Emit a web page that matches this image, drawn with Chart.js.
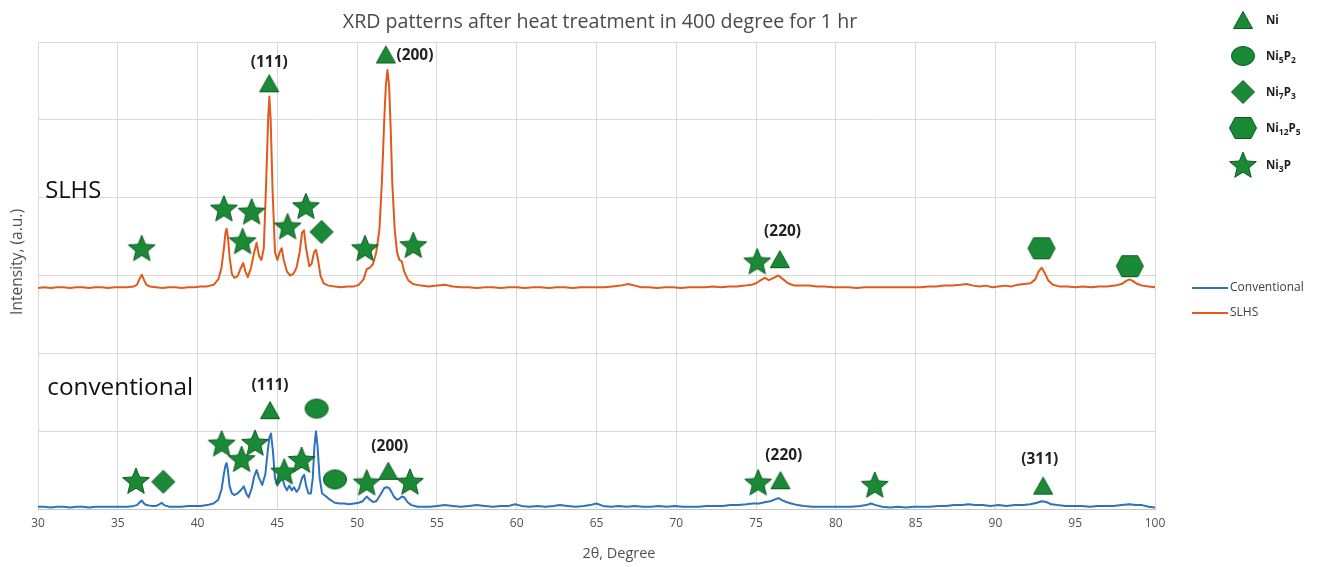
<!DOCTYPE html>
<html><head><meta charset="utf-8">
<script src="https://cdn.jsdelivr.net/npm/chart.js@4/dist/chart.umd.min.js"></script>
<style>html,body{margin:0;padding:0;background:#fff;overflow:hidden}</style>
</head><body>
<canvas id="c" width="1319" height="567"></canvas>
<script>
// ---------- text ----------
const chartTitle = 'XRD patterns after heat treatment in 400 degree for 1 hr';
const xAxisTitle = '2θ, Degree';
const yAxisTitle = 'Intensity, (a.u.)';
const seriesNames = ['Conventional', 'SLHS'];
const curveLabels = ['SLHS', 'conventional'];
const xTickValues = [30,35,40,45,50,55,60,65,70,75,80,85,90,95,100];

// ---------- series (2θ, intensity) ----------
const slhsPoints = [[30.0,2.84],[30.4,2.85],[30.8,2.84],[31.2,2.85],[31.6,2.85],[32.0,2.84],[32.4,2.85],[32.8,2.85],[33.2,2.84],[33.6,2.85],[34.0,2.85],[34.4,2.84],[34.8,2.85],[35.2,2.85],[35.6,2.85],[36.0,2.86],[36.2,2.88],[36.35,2.95],[36.5,3.01],[36.65,2.94],[36.8,2.88],[37.0,2.86],[37.4,2.85],[37.8,2.84],[38.2,2.85],[38.6,2.85],[39.0,2.84],[39.4,2.85],[39.8,2.85],[40.2,2.86],[40.6,2.86],[41.0,2.88],[41.3,2.95],[41.5,3.1],[41.65,3.35],[41.75,3.55],[41.82,3.6],[41.9,3.5],[42.0,3.25],[42.15,3.02],[42.3,2.97],[42.5,2.99],[42.7,3.09],[42.86,3.16],[43.0,3.05],[43.15,2.98],[43.35,3.1],[43.55,3.3],[43.7,3.42],[43.85,3.25],[44.0,3.2],[44.15,3.35],[44.3,4.2],[44.42,5.0],[44.5,5.3],[44.58,5.0],[44.7,4.1],[44.85,3.3],[45.0,3.2],[45.15,3.3],[45.27,3.35],[45.4,3.2],[45.6,3.05],[45.8,3.0],[46.0,3.02],[46.2,3.1],[46.4,3.3],[46.55,3.55],[46.67,3.58],[46.8,3.35],[47.0,3.12],[47.15,3.15],[47.3,3.3],[47.42,3.33],[47.55,3.2],[47.7,3.0],[47.9,2.9],[48.2,2.87],[48.6,2.86],[49.0,2.85],[49.4,2.86],[49.8,2.86],[50.1,2.88],[50.4,2.95],[50.6,3.08],[50.8,3.1],[51.0,3.15],[51.2,3.3],[51.4,3.6],[51.55,4.2],[51.7,5.0],[51.8,5.45],[51.9,5.64],[52.0,5.45],[52.1,4.9],[52.2,4.2],[52.35,3.6],[52.5,3.3],[52.65,3.2],[52.8,3.18],[52.95,3.05],[53.2,2.94],[53.5,2.89],[54.0,2.87],[54.5,2.86],[55.0,2.87],[55.5,2.88],[56.0,2.86],[56.5,2.85],[57.0,2.85],[57.5,2.84],[58.0,2.85],[58.5,2.85],[59.0,2.84],[59.5,2.85],[60.0,2.85],[60.5,2.84],[61.0,2.85],[61.5,2.85],[62.0,2.84],[62.5,2.85],[63.0,2.85],[63.5,2.84],[64.0,2.85],[64.5,2.85],[65.0,2.85],[65.5,2.85],[66.0,2.86],[66.5,2.87],[67.0,2.89],[67.4,2.87],[67.8,2.85],[68.3,2.85],[68.8,2.84],[69.3,2.85],[69.8,2.85],[70.3,2.84],[70.8,2.85],[71.3,2.85],[71.8,2.85],[72.3,2.86],[72.8,2.85],[73.3,2.86],[73.8,2.86],[74.3,2.87],[74.7,2.88],[75.0,2.9],[75.3,2.94],[75.55,2.97],[75.8,2.94],[76.1,2.97],[76.4,3.0],[76.7,2.95],[77.0,2.9],[77.4,2.87],[77.8,2.87],[78.3,2.87],[78.8,2.86],[79.3,2.86],[79.8,2.85],[80.3,2.85],[80.8,2.85],[81.3,2.84],[81.8,2.85],[82.3,2.85],[82.8,2.85],[83.3,2.85],[83.8,2.85],[84.3,2.85],[84.8,2.85],[85.3,2.85],[85.8,2.86],[86.3,2.86],[86.8,2.87],[87.3,2.87],[87.8,2.88],[88.2,2.89],[88.6,2.87],[89.0,2.86],[89.4,2.87],[89.8,2.85],[90.2,2.86],[90.6,2.87],[91.0,2.86],[91.4,2.88],[91.8,2.89],[92.2,2.9],[92.5,2.95],[92.7,3.05],[92.9,3.1],[93.1,3.03],[93.3,2.94],[93.6,2.88],[94.0,2.86],[94.5,2.86],[95.0,2.85],[95.5,2.86],[96.0,2.85],[96.5,2.86],[97.0,2.86],[97.5,2.87],[97.9,2.89],[98.2,2.93],[98.4,2.95],[98.6,2.93],[98.9,2.89],[99.2,2.87],[99.6,2.86],[100.0,2.85]];

const conventionalPoints = [[30.0,0.03],[30.4,0.03],[30.8,0.02],[31.2,0.03],[31.6,0.03],[32.0,0.02],[32.4,0.03],[32.8,0.03],[33.2,0.02],[33.6,0.03],[34.0,0.03],[34.4,0.03],[34.8,0.03],[35.2,0.03],[35.6,0.03],[36.0,0.04],[36.2,0.05],[36.35,0.08],[36.5,0.11],[36.65,0.07],[36.8,0.05],[37.1,0.04],[37.4,0.04],[37.6,0.06],[37.75,0.08],[37.9,0.05],[38.2,0.03],[38.6,0.03],[39.0,0.03],[39.4,0.04],[39.8,0.04],[40.2,0.04],[40.6,0.05],[41.0,0.07],[41.3,0.12],[41.5,0.25],[41.65,0.45],[41.75,0.56],[41.82,0.59],[41.9,0.5],[42.0,0.3],[42.15,0.2],[42.3,0.18],[42.5,0.2],[42.7,0.24],[42.9,0.29],[43.05,0.2],[43.2,0.15],[43.4,0.27],[43.55,0.42],[43.7,0.5],[43.85,0.4],[44.05,0.31],[44.25,0.45],[44.4,0.75],[44.5,0.92],[44.6,0.97],[44.72,0.75],[44.85,0.4],[45.0,0.3],[45.15,0.36],[45.3,0.42],[45.45,0.3],[45.6,0.24],[45.75,0.3],[45.9,0.24],[46.05,0.28],[46.2,0.22],[46.35,0.26],[46.55,0.4],[46.68,0.44],[46.8,0.3],[46.95,0.2],[47.1,0.2],[47.22,0.4],[47.32,0.8],[47.42,1.0],[47.52,0.8],[47.65,0.4],[47.8,0.2],[48.0,0.17],[48.3,0.12],[48.6,0.08],[48.9,0.07],[49.2,0.07],[49.5,0.06],[49.8,0.07],[50.1,0.08],[50.35,0.1],[50.6,0.16],[50.8,0.12],[51.0,0.09],[51.2,0.1],[51.45,0.18],[51.7,0.27],[51.85,0.28],[52.0,0.27],[52.15,0.22],[52.3,0.16],[52.5,0.12],[52.65,0.13],[52.8,0.16],[52.95,0.15],[53.15,0.09],[53.4,0.05],[53.8,0.03],[54.2,0.03],[54.6,0.03],[55.0,0.04],[55.5,0.05],[56.0,0.04],[56.5,0.03],[57.0,0.04],[57.5,0.05],[58.0,0.04],[58.5,0.03],[59.0,0.04],[59.5,0.04],[59.9,0.06],[60.3,0.04],[60.8,0.03],[61.3,0.04],[61.8,0.03],[62.3,0.04],[62.7,0.05],[63.2,0.04],[63.7,0.03],[64.2,0.04],[64.6,0.05],[65.0,0.07],[65.4,0.04],[65.9,0.03],[66.4,0.04],[66.9,0.03],[67.4,0.04],[67.9,0.03],[68.4,0.03],[68.9,0.04],[69.4,0.03],[69.9,0.04],[70.4,0.03],[70.9,0.03],[71.4,0.03],[71.9,0.04],[72.4,0.04],[72.9,0.04],[73.4,0.05],[73.9,0.05],[74.4,0.06],[74.8,0.07],[75.2,0.07],[75.6,0.09],[75.9,0.1],[76.15,0.12],[76.4,0.14],[76.65,0.11],[76.9,0.09],[77.2,0.07],[77.6,0.05],[78.0,0.04],[78.5,0.03],[79.0,0.03],[79.5,0.03],[80.0,0.03],[80.5,0.03],[81.0,0.03],[81.5,0.04],[81.9,0.05],[82.2,0.07],[82.5,0.05],[82.9,0.03],[83.4,0.02],[83.9,0.03],[84.4,0.02],[84.9,0.03],[85.4,0.03],[85.9,0.03],[86.4,0.04],[86.9,0.04],[87.4,0.05],[87.9,0.05],[88.3,0.06],[88.7,0.05],[89.2,0.05],[89.7,0.04],[90.2,0.05],[90.7,0.04],[91.2,0.05],[91.7,0.05],[92.2,0.06],[92.6,0.08],[92.9,0.1],[93.2,0.09],[93.5,0.06],[93.9,0.05],[94.4,0.04],[94.9,0.04],[95.4,0.04],[95.9,0.03],[96.4,0.04],[96.9,0.04],[97.4,0.04],[97.9,0.05],[98.4,0.06],[98.8,0.05],[99.2,0.05],[99.6,0.03],[100.0,0.02]];

// ---------- phase markers (2θ, position) ----------
const niMarkers     = [[44.49,5.47],[51.8,5.84],[76.49,3.21],[44.54,1.27],[51.95,0.49],[76.53,0.37],[92.99,0.30]];
const ni5p2Markers  = [[47.46,1.29],[48.61,0.38]];
const ni7p3Markers  = [[47.77,3.56],[37.85,0.35]];
const ni12p5Markers = [[92.89,3.35],[98.42,3.12]];
const ni3pMarkers   = [[36.5,3.35],[41.65,3.86],[42.82,3.44],[43.39,3.82],[45.64,3.63],[46.79,3.89],[50.49,3.35],[53.52,3.39],[75.07,3.18],
                       [36.14,0.36],[41.51,0.84],[42.76,0.64],[43.6,0.85],[45.43,0.48],[46.52,0.63],[50.6,0.34],[53.31,0.35],[75.13,0.34],[82.44,0.31]];

// ---------- reflection labels ----------
const peakLabelText = ['(111)','(200)','(220)','(111)','(200)','(220)','(311)'];
const peakLabelPos  = [[44.49,5.74],[53.62,5.83],[76.66,3.56],[44.54,1.59],[52.05,0.80],[76.74,0.68],[92.78,0.64]];
const curveLabelPos = [[30.45,4.0],[30.58,1.46]];

const phaseNames = [[['Ni',0]],[['Ni',0],['5',1],['P',0],['2',1]],[['Ni',0],['7',1],['P',0],['3',1]],[['Ni',0],['12',1],['P',0],['5',1]],[['Ni',0],['3',1],['P',0]]];

// ---------- styles ----------
const GREEN = '#1a8a36', GREEN_EDGE = '#0c5a20';
const SLHS_COLOR = '#E2591C', CONV_COLOR = '#2E72BD';
const FONT = '"Open Sans", "DejaVu Sans", sans-serif';

function makeShape(kind) {
  const c = document.createElement('canvas');
  let w = 30, h = 30;
  if (kind === 'triangle') { w = 22; h = 20; }
  if (kind === 'circle') { w = 26; h = 22; }
  if (kind === 'diamond') { w = 26; h = 26; }
  if (kind === 'hexagon') { w = 30; h = 24; }
  c.width = w; c.height = h;
  const g = c.getContext('2d');
  g.fillStyle = GREEN; g.strokeStyle = GREEN_EDGE; g.lineWidth = 1; g.lineJoin = 'miter';
  g.beginPath();
  const cx = w/2, cy = h/2;
  if (kind === 'triangle') {
    g.moveTo(cx, 1.5); g.lineTo(w-1.5, h-1.5); g.lineTo(1.5, h-1.5); g.closePath();
  } else if (kind === 'circle') {
    g.ellipse(cx, cy, w/2-1.5, h/2-1.5, 0, 0, Math.PI*2);
  } else if (kind === 'diamond') {
    g.moveTo(cx, 1.5); g.lineTo(w-1.5, cy); g.lineTo(cx, h-1.5); g.lineTo(1.5, cy); g.closePath();
  } else if (kind === 'hexagon') {
    const q = 7;
    g.moveTo(1.5, cy); g.lineTo(q, 1.5); g.lineTo(w-q, 1.5); g.lineTo(w-1.5, cy); g.lineTo(w-q, h-1.5); g.lineTo(q, h-1.5); g.closePath();
  } else if (kind === 'star') {
    const R = 14, r = 6.2;
    for (let i = 0; i < 10; i++) {
      const a = -Math.PI/2 + i*Math.PI/5;
      const rad = i % 2 === 0 ? R : r;
      const px = cx + rad*Math.cos(a), py = cy + 1 + rad*Math.sin(a);
      if (i === 0) g.moveTo(px, py); else g.lineTo(px, py);
    }
    g.closePath();
  }
  g.fill(); g.stroke();
  return c;
}
const shapes = {
  triangle: makeShape('triangle'), circle: makeShape('circle'), diamond: makeShape('diamond'),
  hexagon: makeShape('hexagon'), star: makeShape('star')
};
const legendShapes = [shapes.triangle, shapes.circle, shapes.diamond, shapes.hexagon, shapes.star];

function toXY(arr) { return arr.map(p => ({x: p[0], y: p[1]})); }
function markerSet(arr, shape) {
  return { type: 'scatter', data: toXY(arr), pointStyle: shape, pointRadius: 10, pointHoverRadius: 10,
           showLine: false, order: 0, clip: false, backgroundColor: GREEN, borderColor: GREEN_EDGE };
}

function fitFont(ctx, text, weight, target) {
  ctx.font = weight + ' 100px ' + FONT;
  const w = ctx.measureText(text).width;
  return weight + ' ' + (100*target/w).toFixed(2) + 'px ' + FONT;
}

const textPlugin = {
  id: 'texts',
  afterDraw(chart) {
    const ctx = chart.ctx, xs = chart.scales.x, ys = chart.scales.y;
    ctx.save();
    // title
    ctx.fillStyle = '#4a4a4a'; ctx.textAlign = 'center'; ctx.textBaseline = 'alphabetic';
    ctx.font = fitFont(ctx, chartTitle, '400', 515);
    ctx.fillText(chartTitle, 600, 28);
    // x title
    ctx.fillStyle = '#505050';
    ctx.font = fitFont(ctx, xAxisTitle, '400', 73);
    ctx.fillText(xAxisTitle, 619, 558);
    // y title
    ctx.save(); ctx.translate(18, 262); ctx.rotate(-Math.PI/2);
    ctx.textBaseline = 'middle';
    ctx.font = fitFont(ctx, yAxisTitle, '400', 106);
    ctx.fillText(yAxisTitle, 0, 0);
    ctx.restore();
    // curve labels
    ctx.fillStyle = '#111'; ctx.textAlign = 'left'; ctx.textBaseline = 'alphabetic';
    ctx.font = fitFont(ctx, curveLabels[0], '400', 56);
    ctx.fillText(curveLabels[0], xs.getPixelForValue(curveLabelPos[0][0]), ys.getPixelForValue(curveLabelPos[0][1]));
    ctx.font = fitFont(ctx, curveLabels[1], '400', 146);
    ctx.fillText(curveLabels[1], xs.getPixelForValue(curveLabelPos[1][0]), ys.getPixelForValue(curveLabelPos[1][1]));
    // peak labels
    ctx.fillStyle = '#222'; ctx.textAlign = 'center'; ctx.textBaseline = 'middle';
    ctx.font = fitFont(ctx, '(111)', '700', 37);
    peakLabelText.forEach((t, i) => {
      ctx.fillText(t, xs.getPixelForValue(peakLabelPos[i][0]), ys.getPixelForValue(peakLabelPos[i][1]));
    });
    // phase legend
    const legYs = [20, 56, 92, 128, 165];
    const mx = 1243, tx = 1266;
    legendShapes.forEach((s, i) => {
      ctx.drawImage(s, mx - s.width/2, legYs[i] - s.height/2);
      let x = tx;
      ctx.textAlign = 'left'; ctx.textBaseline = 'alphabetic'; ctx.fillStyle = '#1e1e1e';
      phaseNames[i].forEach(([txt, sub]) => {
        ctx.font = sub ? '700 8.5px ' + FONT : '700 11.5px ' + FONT;
        ctx.fillText(txt, x, legYs[i] + 4 + (sub ? 3 : 0));
        x += ctx.measureText(txt).width;
      });
    });
    // series legend
    const lineYs = [288, 313], cols = [CONV_COLOR, SLHS_COLOR];
    ctx.lineWidth = 2;
    seriesNames.forEach((n, i) => {
      ctx.strokeStyle = cols[i];
      ctx.beginPath(); ctx.moveTo(1192, lineYs[i]); ctx.lineTo(1228, lineYs[i]); ctx.stroke();
      ctx.fillStyle = '#404040'; ctx.textBaseline = 'middle'; ctx.textAlign = 'left';
      ctx.font = '400 12px ' + FONT;
      ctx.fillText(n, 1230, lineYs[i]);
    });
    ctx.restore();
  }
};

new Chart(document.getElementById('c'), {
  type: 'scatter',
  data: {
    datasets: [
      markerSet(niMarkers, shapes.triangle),
      markerSet(ni5p2Markers, shapes.circle),
      markerSet(ni7p3Markers, shapes.diamond),
      markerSet(ni12p5Markers, shapes.hexagon),
      markerSet(ni3pMarkers, shapes.star),
      { label: seriesNames[0], data: toXY(conventionalPoints), showLine: true, borderColor: CONV_COLOR,
        borderWidth: 2, pointRadius: 0, order: 1, tension: 0, borderJoinStyle: 'round' },
      { label: seriesNames[1], data: toXY(slhsPoints), showLine: true, borderColor: SLHS_COLOR,
        borderWidth: 2, pointRadius: 0, order: 1, tension: 0, borderJoinStyle: 'round' }
    ]
  },
  options: {
    responsive: false, animation: false, devicePixelRatio: 1,
    layout: { padding: { left: 0, top: 42, right: 164, bottom: 0 } },
    plugins: { legend: { display: false }, title: { display: false }, tooltip: { enabled: false } },
    scales: {
      x: {
        type: 'linear', min: 30, max: 100,
        afterFit(s) { s.height = 58; },
        afterBuildTicks(s) { s.ticks = xTickValues.map(v => ({value: v})); },
        ticks: { stepSize: 5, padding: 7, color: '#505050', font: { family: FONT, size: 12 } },
        grid: { color: '#d9d9d9', lineWidth: 1, drawTicks: false },
        border: { color: '#c4c4c4' }
      },
      y: {
        min: 0, max: 6,
        afterFit(s) { s.width = 38; },
        ticks: { stepSize: 1, display: false },
        grid: { color: '#d9d9d9', lineWidth: 1, drawTicks: false },
        border: { display: false }
      }
    }
  },
  plugins: [textPlugin]
});
</script>
</body></html>
